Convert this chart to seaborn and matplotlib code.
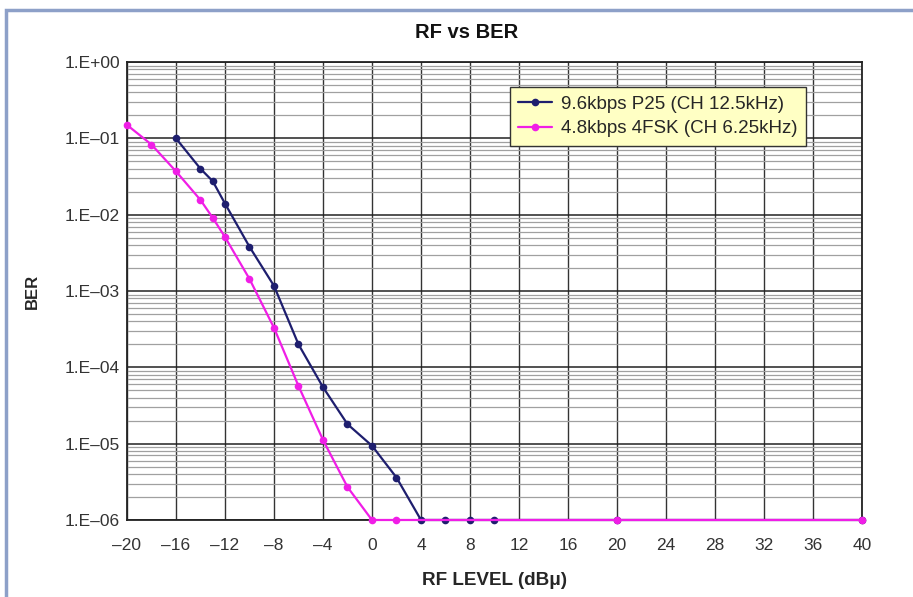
import matplotlib
matplotlib.use("Agg")
import matplotlib.pyplot as plt
import seaborn as sns
import pandas as pd
import numpy as np
from matplotlib.patches import Rectangle
from matplotlib.ticker import FixedLocator, LogLocator, NullFormatter

# ---- data ----
p25_label = "9.6kbps P25 (CH 12.5kHz)"
p25_x = [-16, -14, -13, -12, -10, -8, -6, -4, -2, 0, 2, 4, 6, 8, 10, 20, 40]
p25_ber = [1.0e-1, 4.0e-2, 2.75e-2, 1.4e-2, 3.8e-3, 1.17e-3, 2.0e-4, 5.5e-5,
           1.8e-5, 9.4e-6, 3.6e-6, 1e-6, 1e-6, 1e-6, 1e-6, 1e-6, 1e-6]

fsk_label = "4.8kbps 4FSK (CH 6.25kHz)"
fsk_x = [-20, -18, -16, -14, -13, -12, -10, -8, -6, -4, -2, 0, 2, 20, 40]
fsk_ber = [1.5e-1, 8.3e-2, 3.7e-2, 1.56e-2, 9.1e-3, 5.1e-3, 1.44e-3, 3.3e-4,
           5.7e-5, 1.12e-5, 2.7e-6, 1e-6, 1e-6, 1e-6, 1e-6]

x_ticks = list(range(-20, 41, 4))
y_ticks = [1e0, 1e-1, 1e-2, 1e-3, 1e-4, 1e-5, 1e-6]
y_tick_labels = ["1.E+00", "1.E\u201301", "1.E\u201302", "1.E\u201303",
                 "1.E\u201304", "1.E\u201305", "1.E\u201306"]

df = pd.concat([
    pd.DataFrame({"rf": p25_x, "ber": p25_ber, "series": p25_label}),
    pd.DataFrame({"rf": fsk_x, "ber": fsk_ber, "series": fsk_label}),
], ignore_index=True)

sns.set_style("white")
plt.rcParams["font.family"] = ["Liberation Sans", "DejaVu Sans"]

fig = plt.figure(figsize=(9.13, 5.97), dpi=100)
ax = fig.add_axes([0.1391, 0.129, 0.805, 0.767])

palette = {p25_label: "#1e1e6e", fsk_label: "#f01ee6"}
sns.lineplot(data=df, x="rf", y="ber", hue="series", palette=palette,
             marker="o", markersize=5.5, markeredgewidth=0, linewidth=1.6,
             sort=False, ax=ax, zorder=5, clip_on=False)

ax.set_yscale("log")
ax.set_xlim(-20, 40)
ax.set_ylim(1e-6, 1e0)

ax.xaxis.set_major_locator(FixedLocator(x_ticks))
ax.set_xticklabels([str(t).replace("-", "\u2013") for t in x_ticks])
ax.yaxis.set_major_locator(FixedLocator(y_ticks))
ax.set_yticklabels(y_tick_labels)
ax.yaxis.set_minor_locator(LogLocator(base=10, subs=np.arange(2, 10), numticks=20))
ax.yaxis.set_minor_formatter(NullFormatter())

ax.grid(which="major", axis="y", color="#222222", linewidth=1.1)
ax.grid(which="minor", axis="y", color="#a0a0a0", linewidth=0.9)
ax.grid(which="major", axis="x", color="#333333", linewidth=1.0)
ax.set_axisbelow(True)
ax.tick_params(axis="both", which="both", length=0, labelsize=12.5, colors="#333333")
ax.tick_params(axis="x", pad=13)
ax.tick_params(axis="y", pad=5)

for s in ax.spines.values():
    s.set_color("#222222")
    s.set_linewidth(1.3)

ax.set_xlabel("RF LEVEL (dB\u03bc)", fontsize=13.6, fontweight="bold", labelpad=14)
ax.set_ylabel("BER", fontsize=12, fontweight="bold", labelpad=18)
fig.text(0.5115, 0.945, "RF vs BER", fontsize=14.5, fontweight="bold",
         ha="center", va="center", color="#111111")

leg = ax.legend(loc="upper left", bbox_to_anchor=(0.521, 0.945), frameon=True,
                fancybox=False, fontsize=13.5, handlelength=1.8, borderpad=0.45,
                labelspacing=0.4, handletextpad=0.5, borderaxespad=0, title=None)
leg.get_frame().set_facecolor("#ffffc4")
leg.get_frame().set_edgecolor("#333333")
leg.get_frame().set_alpha(1)
leg.set_zorder(10)

# figure frame (top and left edges visible)
fig.patches.append(Rectangle((0.0065, -0.05), 1.1, 1.033, transform=fig.transFigure,
                             fill=False, edgecolor="#8da0c8", linewidth=2.5))

fig.savefig("out.png", dpi=100, facecolor="white")
